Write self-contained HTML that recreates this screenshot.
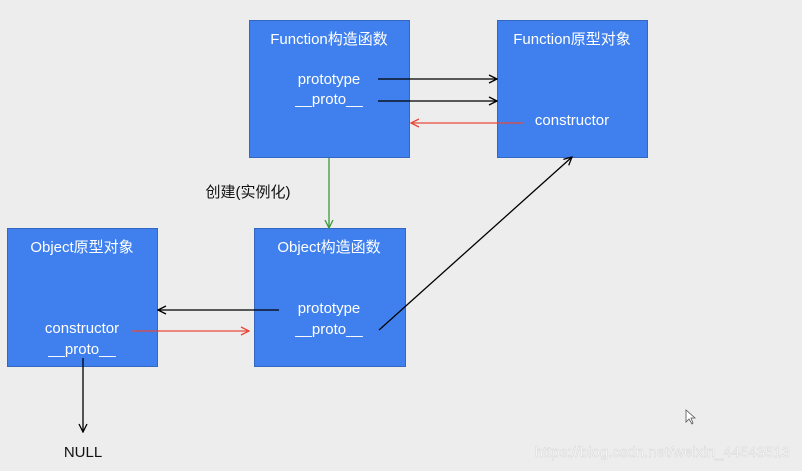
<!DOCTYPE html>
<html><head><meta charset="utf-8"><style>
html,body{margin:0;padding:0;background:#ececec;}
svg{display:block;font-family:"Liberation Sans","Noto Sans CJK SC",sans-serif;}
</style></head><body>
<svg width="802" height="471" viewBox="0 0 802 471" xmlns="http://www.w3.org/2000/svg">
<defs>
<marker id="ak" markerWidth="10" markerHeight="10" refX="9" refY="5" orient="auto" markerUnits="userSpaceOnUse"><path d="M1,1 L9,5 L1,9" fill="none" stroke="#000" stroke-width="1.3"/></marker>
<marker id="ar" markerWidth="10" markerHeight="10" refX="9" refY="5" orient="auto" markerUnits="userSpaceOnUse"><path d="M1,1 L9,5 L1,9" fill="none" stroke="#e8483a" stroke-width="1.3"/></marker>
<marker id="ag" markerWidth="10" markerHeight="10" refX="9" refY="5" orient="auto" markerUnits="userSpaceOnUse"><path d="M1,1 L9,5 L1,9" fill="none" stroke="#3a9a3a" stroke-width="1.3"/></marker>
</defs>
<rect width="802" height="471" fill="#ededed"/>
<g fill="#4080ee" stroke="#3566c0" stroke-width="1">
<rect x="249.5" y="20.5" width="160" height="137"/>
<rect x="497.5" y="20.5" width="150" height="137"/>
<rect x="7.5" y="228.5" width="150" height="138"/>
<rect x="254.5" y="228.5" width="151" height="138"/>
</g>
<g fill="#fff" font-size="15" text-anchor="middle">
<text x="329" y="44">Function构造函数</text>
<text x="329" y="84">prototype</text>
<text x="329" y="104">__proto__</text>
<text x="572" y="44">Function原型对象</text>
<text x="572" y="125">constructor</text>
<text x="82" y="252">Object原型对象</text>
<text x="82" y="333">constructor</text>
<text x="82" y="354">__proto__</text>
<text x="329" y="252">Object构造函数</text>
<text x="329" y="313">prototype</text>
<text x="329" y="334">__proto__</text>
</g>
<g stroke-width="1.3" fill="none">
<line x1="378" y1="79" x2="497" y2="79" stroke="#000" marker-end="url(#ak)"/>
<line x1="378" y1="101" x2="497" y2="101" stroke="#000" marker-end="url(#ak)"/>
<line x1="523" y1="123" x2="411" y2="123" stroke="#e8483a" marker-end="url(#ar)"/>
<line x1="329" y1="158" x2="329" y2="228" stroke="#3a9a3a" marker-end="url(#ag)"/>
<line x1="279" y1="310" x2="158" y2="310" stroke="#000" marker-end="url(#ak)"/>
<line x1="132" y1="331" x2="249" y2="331" stroke="#e8483a" marker-end="url(#ar)"/>
<line x1="379" y1="330" x2="572" y2="157" stroke="#000" marker-end="url(#ak)"/>
<line x1="83" y1="358" x2="83" y2="432" stroke="#000" marker-end="url(#ak)"/>
</g>
<text x="248" y="197" font-size="15" text-anchor="middle" fill="#111">创建(实例化)</text>
<text x="83" y="457" font-size="15" text-anchor="middle" fill="#111">NULL</text>
<text x="790" y="457" font-size="15" text-anchor="end" fill="#fafafa" stroke="#d0d0d0" stroke-width="0.4">https://blog.csdn.net/weixin_44543513</text>
<path d="M686,410 L686,422 L689,419 L692,424 L693,423 L691,418 L695,418 Z" fill="#fff" stroke="#555" stroke-width="0.8"/>
</svg>
</body></html>
